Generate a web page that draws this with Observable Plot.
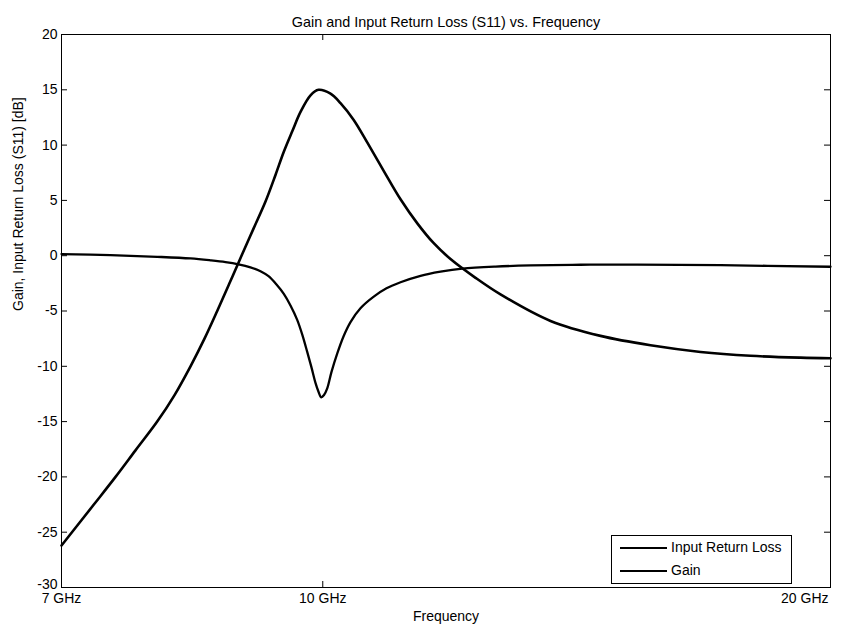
<!DOCTYPE html>
<html>
<head>
<meta charset="utf-8">
<script src="https://cdn.jsdelivr.net/npm/d3@7"></script>
<script src="https://cdn.jsdelivr.net/npm/@observablehq/plot@0.6"></script>
<style>
  html, body { margin: 0; padding: 0; background: white; }
  #wrap { position: relative; width: 858px; height: 632px; font-family: "Liberation Sans", Arial, Helvetica, sans-serif; }
  #legend { position: absolute; left: 611px; top: 535px; width: 181px; height: 49px; box-sizing: border-box;
            border: 1px solid black; background: white; font-size: 14px; color: black; }
  .sw { position: absolute; left: 8px; width: 47px; height: 0; border-top: 2px solid black; }
  .lt { position: absolute; left: 59px; line-height: 16px; white-space: nowrap; }
</style>
</head>
<body>
<div id="wrap"></div>
<script>
// ---- data ----
const titleText = "Gain and Input Return Loss (S11) vs. Frequency";
const xLabelText = "Frequency";
const yLabelText = "Gain, Input Return Loss (S11) [dB]";
const seriesNames = ["Input Return Loss", "Gain"];

const xTicks = [7, 10, 20];
const xTickLabels = ["7 GHz", "10 GHz", "20 GHz"];
const yTicks = [-30, -25, -20, -15, -10, -5, 0, 5, 10, 15, 20];

// Gain (dB) vs frequency (GHz)
const gainFreq = [7.000, 7.316, 7.536, 7.744, 7.977, 8.168, 8.348, 8.509, 8.658, 8.804, 8.950, 9.098, 9.248, 9.375, 9.482, 9.595, 9.701, 9.834, 9.942, 10.106, 10.245, 10.429, 10.630, 10.865, 11.120, 11.381, 11.632, 11.905, 12.319, 12.746, 13.647, 14.611, 15.643, 16.749, 17.931, 19.198, 20.000];
const gainDb   = [-26.2, -22.5, -20.0, -17.6, -15.0, -12.6, -10.0, -7.5, -5.0, -2.5, 0.0, 2.45, 4.9, 7.3, 9.4, 11.3, 13.0, 14.5, 15.0, 14.65, 13.8, 12.3, 10.2, 7.7, 5.1, 2.9, 1.15, -0.3, -2.0, -3.5, -5.9, -7.25, -8.1, -8.7, -9.05, -9.22, -9.27];

// Input return loss S11 (dB) vs frequency (GHz)
const s11Freq = [7.000, 7.484, 7.977, 8.348, 8.579, 8.757, 8.913, 9.060, 9.185, 9.286, 9.388, 9.482, 9.569, 9.657, 9.727, 9.790, 9.847, 9.901, 9.942, 9.979, 10.017, 10.061, 10.120, 10.199, 10.287, 10.386, 10.528, 10.721, 10.909, 11.120, 11.428, 11.744, 12.097, 12.660, 13.279, 14.218, 15.362, 17.211, 20.000];
const s11Db   = [0.15, 0.05, -0.1, -0.25, -0.42, -0.58, -0.78, -1.05, -1.4, -1.85, -2.6, -3.45, -4.5, -5.8, -7.2, -8.7, -10.1, -11.5, -12.3, -12.8, -12.6, -12.0, -10.5, -8.85, -7.3, -6.0, -4.75, -3.7, -2.95, -2.4, -1.82, -1.45, -1.17, -0.98, -0.88, -0.82, -0.8, -0.86, -1.0];

// ---- build ----
const gainData = gainFreq.map((f, i) => ({f, v: gainDb[i]}));
const s11Data = s11Freq.map((f, i) => ({f, v: s11Db[i]}));
const xTickData = xTicks.map((t, i) => ({t, label: xTickLabels[i]}));

const W = 858, H = 632, mL = 61, mR = 28, mT = 34, mB = 45;
const fw = W - mL - mR, fh = H - mT - mB;
const font = "'Liberation Sans', Arial, Helvetica, sans-serif";

const chart = Plot.plot({
  width: W, height: H,
  marginTop: mT, marginLeft: mL, marginRight: mR, marginBottom: mB,
  style: {fontFamily: font, fontSize: "14px", background: "white", color: "black"},
  x: {type: "log", domain: [7, 20], axis: null},
  y: {domain: [-30, 20]},
  marks: [
    Plot.axisY({ticks: yTicks.slice(1), tickSize: 0, tickPadding: 4, label: null, fontSize: 14, tickFormat: d => String(d)}),
    Plot.text(yTicks.slice(0, 1), {y: d => d, text: d => String(d), frameAnchor: "left", textAnchor: "end", dx: -4, dy: -3, fontSize: 14, fill: "black"}),
    Plot.tickY(yTicks, {y: d => d, insetRight: fw - 6, stroke: "black"}),
    Plot.tickY(yTicks, {y: d => d, insetLeft: fw - 6, stroke: "black"}),
    Plot.tickX(xTicks, {x: d => d, insetTop: fh - 6, stroke: "black"}),
    Plot.tickX(xTicks, {x: d => d, insetBottom: fh - 6, stroke: "black"}),
    Plot.text(xTickData.slice(0, 2), {x: "t", text: "label", frameAnchor: "bottom", dy: 15, fontSize: 14, fill: "black"}),
    Plot.text(xTickData.slice(2), {x: "t", text: "label", frameAnchor: "bottom", dy: 15, dx: -2, textAnchor: "end", fontSize: 14, fill: "black"}),
    Plot.text([titleText], {text: d => d, frameAnchor: "top", dy: -17.5, fontSize: 14.4, fill: "black"}),
    Plot.text([xLabelText], {text: d => d, frameAnchor: "bottom", dy: 33.5, fontSize: 14, fill: "black"}),
    Plot.text([yLabelText], {text: d => d, frameAnchor: "left", rotate: -90, dx: -43, fontSize: 14, fill: "black"}),
    Plot.line(s11Data, {x: "f", y: "v", stroke: "black", strokeWidth: 2.3, curve: "catmull-rom"}),
    Plot.line(gainData, {x: "f", y: "v", stroke: "black", strokeWidth: 2.6, curve: "catmull-rom"}),
    Plot.frame({stroke: "black", strokeWidth: 1})
  ]
});

const wrap = document.getElementById("wrap");
wrap.appendChild(chart);

const legend = document.createElement("div");
legend.id = "legend";
seriesNames.forEach((name, i) => {
  const top = 11 + i * 23;
  const sw = document.createElement("div");
  sw.className = "sw";
  sw.style.top = top + "px";
  legend.appendChild(sw);
  const lt = document.createElement("div");
  lt.className = "lt";
  lt.style.top = (top - 8) + "px";
  lt.textContent = name;
  legend.appendChild(lt);
});
wrap.appendChild(legend);
</script>
</body>
</html>
